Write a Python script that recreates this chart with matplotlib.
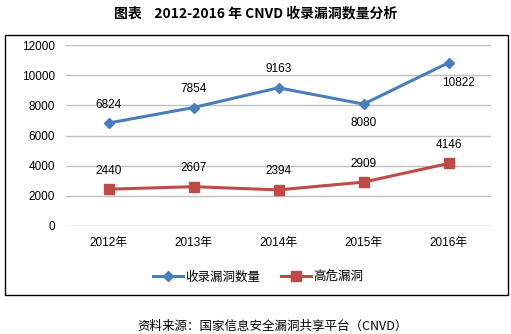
import matplotlib.pyplot as plt
from matplotlib.patches import Rectangle
from matplotlib.lines import Line2D

plt.rcParams['font.family'] = ['Noto Sans CJK SC', 'DejaVu Sans']

years = ['2012年', '2013年', '2014年', '2015年', '2016年']
total = [6824, 7854, 9163, 8080, 10822]
high_risk = [2440, 2607, 2394, 2909, 4146]
# label offsets (points) for the total series
total_offsets = [(0, 9), (0, 9), (0, 9), (0, -9), (7, -10)]

BLUE = '#4a7ebb'
RED = '#be4b48'

fig = plt.figure(figsize=(5.11, 3.34), dpi=100)
fig.patch.set_facecolor('white')

# box around the chart
fig.patches.append(Rectangle((5 / 511, 1 - 295 / 334), 503 / 511, 260 / 334,
                             transform=fig.transFigure, fill=False,
                             edgecolor='black', linewidth=1.0))

ax = fig.add_axes([66 / 511, 1 - 226 / 334, 425 / 511, 181 / 334])
x = [i + 0.5 for i in range(len(years))]

ax.plot(x, total, color=BLUE, linewidth=2.2, marker='D', markersize=5.5,
        label='收录漏洞数量', zorder=3)
ax.plot(x, high_risk, color=RED, linewidth=2.2, marker='s', markersize=7,
        label='高危漏洞', zorder=3)

for xi, v, off in zip(x, total, total_offsets):
    ax.annotate(str(v), (xi, v), xytext=off, textcoords='offset points',
                ha='center', va='bottom' if off[1] > 0 else 'top',
                fontsize=8.5, family='Liberation Sans')
for xi, v in zip(x, high_risk):
    ax.annotate(str(v), (xi, v), xytext=(0, 9), textcoords='offset points',
                ha='center', va='bottom', fontsize=8.5, family='Liberation Sans')

ax.set_xlim(0, 5)
ax.set_ylim(0, 12000)
ax.set_yticks(range(0, 12001, 2000))
ax.set_xticks(x)
ax.set_xticklabels(years, fontsize=8.5, family=['Liberation Sans', 'Noto Sans CJK SC'])
ax.tick_params(axis='y', labelsize=8.5, length=0, pad=8)
ax.tick_params(axis='x', length=0, pad=8)
for lab in ax.get_yticklabels():
    lab.set_family('Liberation Sans')
ax.grid(axis='y', color='#bfbfbf', linewidth=1.0)
ax.set_axisbelow(True)
for s in ax.spines.values():
    s.set_visible(False)

handles = [Line2D([], [], color=BLUE, linewidth=2.2, marker='D', markersize=5.5),
           Line2D([], [], color=RED, linewidth=2.2, marker='s', markersize=7)]
fig.legend(handles, ['收录漏洞数量', '高危漏洞'], loc='center',
           bbox_to_anchor=(258 / 511, 1 - 277 / 334), ncol=2, frameon=False,
           fontsize=9, handlelength=2.4, handletextpad=0.2, columnspacing=1.6)

fig.text(256 / 511, 1 - 13 / 334, '图表    2012-2016 年 CNVD 收录漏洞数量分析',
         ha='center', va='center', fontsize=10, fontweight='bold')
fig.text(137 / 511, 1 - 326 / 334, '资料来源：国家信息安全漏洞共享平台（CNVD）',
         ha='left', va='center', fontsize=9)

fig.savefig('out.png', dpi=100)
